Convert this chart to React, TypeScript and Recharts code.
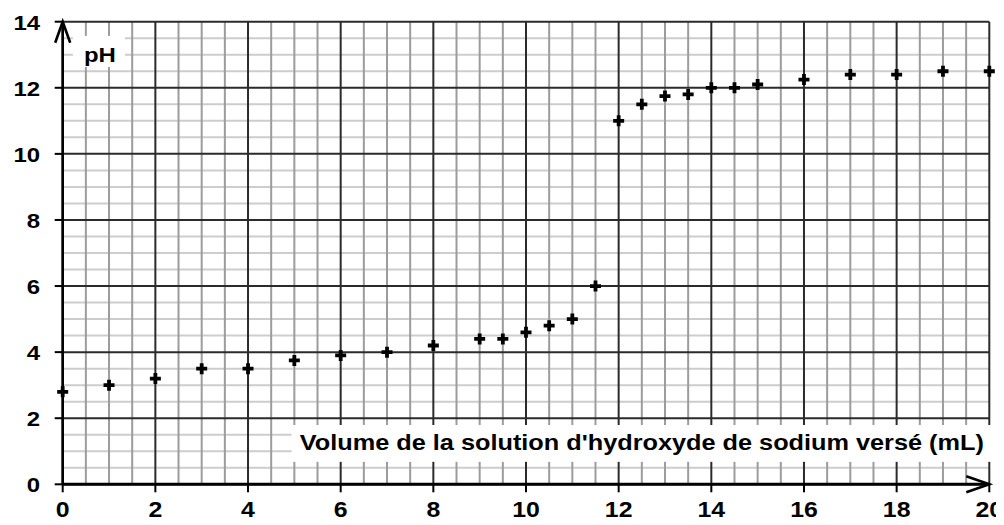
import React from 'react';
import { ScatterChart, Scatter, XAxis, YAxis, ReferenceLine, ReferenceArea, ReferenceDot } from 'recharts';

// Measured data: volume of NaOH added (mL) and pH
const volumes = [0, 1, 2, 3, 4, 5, 6, 7, 8, 9, 9.5, 10, 10.5, 11, 11.5, 12, 12.5, 13, 13.5, 14, 14.5, 15, 16, 17, 18, 19, 20];
const phValues = [2.8, 3.0, 3.2, 3.5, 3.5, 3.75, 3.9, 4.0, 4.2, 4.4, 4.4, 4.6, 4.8, 5.0, 6.0, 11.0, 11.5, 11.75, 11.8, 12.0, 12.0, 12.1, 12.25, 12.4, 12.4, 12.5, 12.5];

// Axis ticks (labelled) and grid lines
const xTicks = [0, 2, 4, 6, 8, 10, 12, 14, 16, 18, 20];
const yTicks = [0, 2, 4, 6, 8, 10, 12, 14];
const xMinorLines = [0.5, 1, 1.5, 2.5, 3, 3.5, 4.5, 5, 5.5, 6.5, 7, 7.5, 8.5, 9, 9.5, 10.5, 11, 11.5, 12.5, 13, 13.5, 14.5, 15, 15.5, 16.5, 17, 17.5, 18.5, 19, 19.5];
const yMinorLines = [0.5, 1, 1.5, 2.5, 3, 3.5, 4.5, 5, 5.5, 6.5, 7, 7.5, 8.5, 9, 9.5, 10.5, 11, 11.5, 12.5, 13, 13.5];

const xTitle = "Volume de la solution d'hydroxyde de sodium versé (mL)";
const yTitle = 'pH';

// Title boxes, in data units
const xTitleBox = { x1: 4.94, x2: 20.17, y1: 0.68, y2: 1.795 };
const yTitleBox = { x1: 0.22, x2: 1.345, y1: 12.63, y2: 13.57 };

const data = volumes.map((v, i) => ({ v, ph: phValues[i] }));

const FONT = '"Liberation Sans", Arial, Helvetica, sans-serif';

const XTick = (props: any) => {
  const { x, y, payload } = props;
  return (
    <text transform={`translate(${x},${y + 25}) scale(1.13,1)`} textAnchor="middle" fontFamily={FONT} fontWeight="bold" fontSize={22} fill="#000">
      {payload.value}
    </text>
  );
};

const YTick = (props: any) => {
  const { x, y, payload } = props;
  return (
    <text transform={`translate(${x},${y + 8}) scale(1.14,1)`} textAnchor="end" fontFamily={FONT} fontWeight="bold" fontSize={21} fill="#000">
      {payload.value}
    </text>
  );
};

const Cross = (props: any) => {
  const { cx, cy } = props;
  if (cx == null || cy == null) return <g />;
  return <path d={`M${cx - 5.5},${cy}H${cx + 5.5}M${cx},${cy - 5.5}V${cy + 5.5}`} stroke="#000" strokeWidth={3.8} fill="none" />;
};

const TitleBox = (props: any) => {
  const { x, y, width, height, text, dx, dy, size, stretch } = props;
  return (
    <g>
      <rect x={x} y={y} width={width} height={height} fill="#fff" stroke="none" />
      <text transform={`translate(${x + dx},${y + dy}) scale(${stretch},1)`} fontFamily={FONT} fontWeight="bold" fontSize={size} fill="#000">
        {text}
      </text>
    </g>
  );
};

const UpArrow = (props: any) => {
  const { cx, cy } = props;
  return <path d={`M${cx - 7.5},${cy + 21}L${cx},${cy}L${cx + 7.5},${cy + 21}`} stroke="#000" strokeWidth={2.6} fill="none" />;
};

const RightArrow = (props: any) => {
  const { cx, cy } = props;
  return <path d={`M${cx - 23},${cy - 8}L${cx},${cy}L${cx - 23},${cy + 8}`} stroke="#000" strokeWidth={2.6} fill="none" />;
};

export default function App() {
  return (
    <div style={{ width: 996, height: 509 }}>
      <ScatterChart width={996} height={517} margin={{ top: 13.7, right: 14.7, bottom: 0, left: 0 }}>
        <XAxis
          type="number"
          dataKey="v"
          domain={[0, 20]}
          ticks={xTicks}
          interval={0}
          height={40.7}
          tickSize={8}
          tickMargin={0}
          tickLine={{ stroke: '#000', strokeWidth: 2 }}
          axisLine={{ stroke: '#000', strokeWidth: 3 }}
          tick={<XTick />}
        />
        <YAxis
          type="number"
          dataKey="ph"
          domain={[0, 14]}
          ticks={yTicks}
          interval={0}
          width={54.7}
          tickSize={8}
          tickMargin={14.7}
          tickLine={{ stroke: '#000', strokeWidth: 2 }}
          axisLine={{ stroke: '#000', strokeWidth: 2.6 }}
          tick={<YTick />}
        />
        {yMinorLines.map((y) => (
          <ReferenceLine key={`hy${y}`} y={y} stroke="#cdcdcd" strokeWidth={2} zIndex={10} />
        ))}
        {xMinorLines.map((x) => (
          <ReferenceLine key={`vx${x}`} x={x} stroke="#9c9c9c" strokeWidth={2} zIndex={20} />
        ))}
        {yTicks.map((y) => (
          <ReferenceLine key={`HY${y}`} y={y} stroke="#2b2b2b" strokeWidth={2} zIndex={30} />
        ))}
        {xTicks.map((x) => (
          <ReferenceLine key={`VX${x}`} x={x} stroke="#2b2b2b" strokeWidth={2} zIndex={30} />
        ))}
        <ReferenceArea
          x1={xTitleBox.x1}
          x2={xTitleBox.x2}
          y1={xTitleBox.y1}
          y2={xTitleBox.y2}
          ifOverflow="visible"
          zIndex={40}
          shape={(p: any) => <TitleBox {...p} text={xTitle} dx={8.3} dy={25} size={22} stretch={1.15} />}
        />
        <ReferenceArea
          x1={yTitleBox.x1}
          x2={yTitleBox.x2}
          y1={yTitleBox.y1}
          y2={yTitleBox.y2}
          ifOverflow="visible"
          zIndex={40}
          shape={(p: any) => <TitleBox {...p} text={yTitle} dx={11} dy={25.7} size={21} stretch={1.14} />}
        />
        <ReferenceDot x={0} y={14} r={1} ifOverflow="visible" zIndex={550} shape={(p: any) => <UpArrow {...p} />} />
        <ReferenceDot x={20} y={0} r={1} ifOverflow="visible" zIndex={550} shape={(p: any) => <RightArrow {...p} />} />
        <Scatter data={data} isAnimationActive={false} shape={(p: any) => <Cross {...p} />} zIndex={600} />
      </ScatterChart>
    </div>
  );
}
